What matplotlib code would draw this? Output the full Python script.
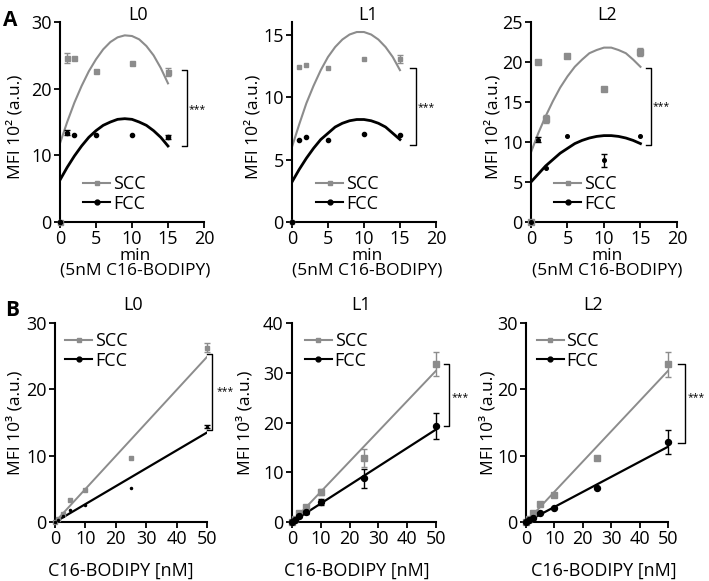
"""Uptake of C16-BODIPY in SCC and FCC cells (panels A and B)."""

import numpy as np
import matplotlib.pyplot as plt
from matplotlib.lines import Line2D

plt.rcParams['font.family'] = ['Open Sans', 'DejaVu Sans']

GREY = '#8c8c8c'
BLACK = '#000000'

# ---- panel A: time course (MFI 10^2) ----
time_min = [0, 1, 2, 5, 10, 15]
fit_min = list(range(16))

a_l0_scc = [0, 24.6, 24.6, 22.7, 23.8, 22.5]
a_l0_scc_err = [0, 0.7, 0, 0, 0, 0.6]
a_l0_fcc = [0, 13.4, 13.0, 13.0, 13.0, 12.7]
a_l0_fcc_err = [0, 0.4, 0, 0, 0, 0.3]
a_l0_scc_fit = [11.8, 15.0, 17.9, 20.4, 22.6, 24.4, 25.9, 27.0, 27.7, 28.0,
                27.9, 27.4, 26.4, 25.0, 23.1, 20.8]
a_l0_fcc_fit = [6.3, 8.2, 9.9, 11.4, 12.7, 13.7, 14.5, 15.0, 15.4, 15.5,
                15.4, 15.0, 14.5, 13.7, 12.7, 11.4]

a_l1_scc = [0, 12.4, 12.6, 12.3, 13.05, 13.05]
a_l1_scc_err = [0, 0, 0, 0, 0, 0.3]
a_l1_fcc = [0, 6.6, 6.8, 6.6, 7.05, 7.0]
a_l1_fcc_err = [0, 0, 0, 0, 0, 0]
a_l1_scc_fit = [6.0, 7.8, 9.5, 10.9, 12.15, 13.2, 14.0, 14.6, 15.0, 15.2,
                15.2, 15.0, 14.6, 14.0, 13.2, 12.15]
a_l1_fcc_fit = [3.2, 4.2, 5.1, 5.9, 6.6, 7.1, 7.6, 7.9, 8.1, 8.2,
                8.2, 8.1, 7.9, 7.6, 7.1, 6.6]

a_l2_scc = [0, 20.0, 12.9, 20.7, 16.6, 21.3]
a_l2_scc_err = [0, 0, 0.5, 0, 0, 0.5]
a_l2_fcc = [0, 10.3, 6.7, 10.8, 7.7, 10.75]
a_l2_fcc_err = [0, 0.3, 0, 0, 0.8, 0]
a_l2_scc_fit = [8.7, 11.1, 13.2, 15.1, 16.8, 18.2, 19.4, 20.3, 21.1, 21.5,
                21.8, 21.8, 21.5, 21.1, 20.3, 19.4]
a_l2_fcc_fit = [5.0, 6.0, 7.0, 7.8, 8.6, 9.2, 9.8, 10.2, 10.5, 10.7,
                10.8, 10.8, 10.7, 10.5, 10.2, 9.8]

# ---- panel B: dose response (MFI 10^3) ----
conc_nm = [0, 1, 2.5, 5, 10, 25, 50]
fit_nm = [0, 50]

b_l0_scc = [0, 0.5, 1.2, 3.3, 4.8, 9.6, 26.3]
b_l0_scc_err = [0, 0, 0, 0, 0, 0, 0.7]
b_l0_fcc = [0, 0.3, 0.9, 1.8, 2.6, 5.1, 14.4]
b_l0_fcc_err = [0, 0, 0, 0, 0, 0, 0.2]
b_l0_scc_fit = [0, 24.9]
b_l0_fcc_fit = [0, 13.5]

b_l1_scc = [0, 0.7, 1.8, 3.1, 6.1, 12.8, 31.8]
b_l1_scc_err = [0, 0, 0.3, 0.4, 0.6, 1.8, 2.35]
b_l1_fcc = [0, 0.5, 1.3, 2.0, 4.1, 8.8, 19.3]
b_l1_fcc_err = [0, 0, 0.2, 0.3, 0.6, 1.95, 2.7]
b_l1_scc_fit = [0, 30.4]
b_l1_fcc_fit = [0, 18.6]

b_l2_scc = [0, 0.5, 1.3, 2.7, 4.1, 9.6, 23.8]
b_l2_scc_err = [0, 0, 0, 0, 0, 0, 1.9]
b_l2_fcc = [0, 0.3, 0.65, 1.3, 2.1, 5.2, 12.0]
b_l2_fcc_err = [0, 0, 0, 0, 0, 0, 1.8]
b_l2_scc_fit = [0, 22.8]
b_l2_fcc_fit = [0, 11.35]


def draw_series(ax, x, y, err, marker, color, ms, zorder):
    """Markers for every point, error bars only where an error was read."""
    x, y, err = np.asarray(x), np.asarray(y), np.asarray(err)
    ax.plot(x, y, marker, color=color, ms=ms, clip_on=False, zorder=zorder)
    has_err = err > 0
    if has_err.any():
        ax.errorbar(x[has_err], y[has_err], yerr=err[has_err], fmt='none',
                    ecolor=color, elinewidth=1.0, capsize=2, capthick=1.0,
                    clip_on=False, zorder=zorder)


def draw_panel(ax, x, scc, scc_err, fcc, fcc_err, fit_x, scc_fit, fcc_fit,
               ms=(3.6, 3.0), lw=(1.5, 2.0)):
    """Plot the fitted curves and the SCC / FCC points with error bars."""
    ax.plot(fit_x, scc_fit, color=GREY, lw=lw[0], zorder=2)
    ax.plot(fit_x, fcc_fit, color=BLACK, lw=lw[1], zorder=2)
    draw_series(ax, x, scc, scc_err, 's', GREY, ms[0], 3)
    draw_series(ax, x, fcc, fcc_err, 'o', BLACK, ms[1], 4)


def style_axes(ax, xlim, xticks, ylim, yticks):
    ax.set_xlim(xlim)
    ax.set_ylim(ylim)
    ax.set_xticks(xticks)
    ax.set_yticks(yticks)
    for side in ('top', 'right'):
        ax.spines[side].set_visible(False)
    for side in ('left', 'bottom'):
        ax.spines[side].set_linewidth(1.5)
    ax.tick_params(direction='out', length=4.5, width=1.3, labelsize=13,
                   pad=1.5)


def add_legend(ax, anchor):
    handles = [
        Line2D([], [], color=GREY, lw=1.5, marker='s', ms=3),
        Line2D([], [], color=BLACK, lw=1.5, marker='o', ms=3.5),
    ]
    ax.legend(handles, ['SCC', 'FCC'], loc='upper left', bbox_to_anchor=anchor,
              frameon=False, fontsize=13, handlelength=1.5, handletextpad=0.15,
              labelspacing=0.1, borderpad=0, borderaxespad=0)


def add_bracket(ax, x, x_tick, y_top, y_bottom, star_x, star_y):
    ax.plot([x_tick, x, x, x_tick], [y_top, y_top, y_bottom, y_bottom],
            color=BLACK, lw=1.0, clip_on=False)
    ax.text(star_x, star_y, '***', ha='center', va='center', fontsize=7.5,
            clip_on=False)


fig = plt.figure(figsize=(7.09, 5.81), dpi=100)

panels_a = [
    # name, rect, data, ylim, yticks, title x, ylabel x, xlabel x, legend, bracket, marker sizes
    ('L0', [0.0846, 0.6179, 0.2031, 0.3442],
     (a_l0_scc, a_l0_scc_err, a_l0_fcc, a_l0_fcc_err, a_l0_scc_fit, a_l0_fcc_fit),
     (0, 30), [0, 10, 20, 30], 0.54, -0.31, 0.52, (0.16, 0.235),
     (17.7, 16.9, 22.8, 11.4, 19.0, 16.9), (3.6, 3.0)),
    ('L1', [0.4118, 0.6179, 0.2031, 0.3442],
     (a_l1_scc, a_l1_scc_err, a_l1_fcc, a_l1_fcc_err, a_l1_scc_fit, a_l1_fcc_fit),
     (0, 16), [0, 5, 10, 15], 0.53, -0.27, 0.52, (0.167, 0.235),
     (17.2, 16.4, 12.35, 6.17, 18.7, 9.17), (3.0, 3.0)),
    ('L2', [0.7489, 0.6179, 0.2059, 0.3442],
     (a_l2_scc, a_l2_scc_err, a_l2_fcc, a_l2_fcc_err, a_l2_scc_fit, a_l2_fcc_fit),
     (0, 25), [0, 5, 10, 15, 20, 25], 0.52, -0.26, 0.52, (0.158, 0.235),
     (16.5, 15.75, 19.2, 9.6, 17.9, 14.4), (4.0, 2.6)),
]

for name, rect, data, ylim, yticks, tx, ylx, xlx, leg, br, ms in panels_a:
    ax = fig.add_axes(rect)
    scc, scc_err, fcc, fcc_err, scc_fit, fcc_fit = data
    draw_panel(ax, time_min, scc, scc_err, fcc, fcc_err, fit_min,
               scc_fit, fcc_fit, ms=ms, lw=(1.5, 2.0))
    style_axes(ax, (0, 20), [0, 5, 10, 15, 20], ylim, yticks)
    ax.set_title(name, x=tx, y=1.035, va='center', pad=0, fontsize=13)
    ax.set_ylabel('MFI 10² (a.u.)', fontsize=12.5, va='center')
    ax.yaxis.set_label_coords(ylx, 0.475)
    ax.set_xlabel('min', fontsize=12.5, va='center')
    ax.xaxis.set_label_coords(xlx, -0.172)
    ax.text(xlx, -0.245, '(5nM C16-BODIPY)', transform=ax.transAxes,
            ha='center', va='center', fontsize=12.5)
    add_legend(ax, leg)
    add_bracket(ax, *br)

panels_b = [
    ('L0', [0.0776, 0.1015, 0.2144, 0.3425],
     (b_l0_scc, b_l0_scc_err, b_l0_fcc, b_l0_fcc_err, b_l0_scc_fit, b_l0_fcc_fit),
     (0, 30), [0, 10, 20, 30], 0.515, -0.263, 0.43, (0.066, 0.955),
     (51.7, 49.9, 25.4, 13.9, 55.9, 19.6), (3.0, 1.5)),
    ('L1', [0.4118, 0.1015, 0.2031, 0.3425],
     (b_l1_scc, b_l1_scc_err, b_l1_fcc, b_l1_fcc_err, b_l1_scc_fit, b_l1_fcc_fit),
     (0, 40), [0, 10, 20, 30, 40], 0.48, -0.326, 0.45, (0.09, 0.955),
     (54.5, 52.8, 31.8, 19.3, 58.3, 25.1), (4.3, 4.3)),
    ('L2', [0.7419, 0.1015, 0.2003, 0.3425],
     (b_l2_scc, b_l2_scc_err, b_l2_fcc, b_l2_fcc_err, b_l2_scc_fit, b_l2_fcc_fit),
     (0, 30), [0, 10, 20, 30], 0.47, -0.268, 0.55, (0.075, 0.955),
     (56.0, 53.6, 23.8, 11.95, 59.9, 18.8), (4.3, 4.3)),
]

for name, rect, data, ylim, yticks, tx, ylx, xlx, leg, br, ms in panels_b:
    ax = fig.add_axes(rect)
    scc, scc_err, fcc, fcc_err, scc_fit, fcc_fit = data
    draw_panel(ax, conc_nm, scc, scc_err, fcc, fcc_err, fit_nm,
               scc_fit, fcc_fit, ms=ms, lw=(1.4, 1.6))
    style_axes(ax, (0, 50), [0, 10, 20, 30, 40, 50], ylim, yticks)
    ax.set_title(name, x=tx, y=1.09, va='center', pad=0, fontsize=13)
    ax.set_ylabel('MFI 10³ (a.u.)', fontsize=12.5, va='center')
    ax.yaxis.set_label_coords(ylx, 0.5)
    ax.set_xlabel('C16-BODIPY [nM]', fontsize=13, va='top')
    ax.xaxis.set_label_coords(xlx, -0.2)
    add_legend(ax, leg)
    add_bracket(ax, *br)

fig.text(0.015, 0.965, 'A', fontsize=15, fontweight='bold', ha='center',
         va='center')
fig.text(0.017, 0.466, 'B', fontsize=15, fontweight='bold', ha='center',
         va='center')

fig.savefig('out.png', dpi=100)
